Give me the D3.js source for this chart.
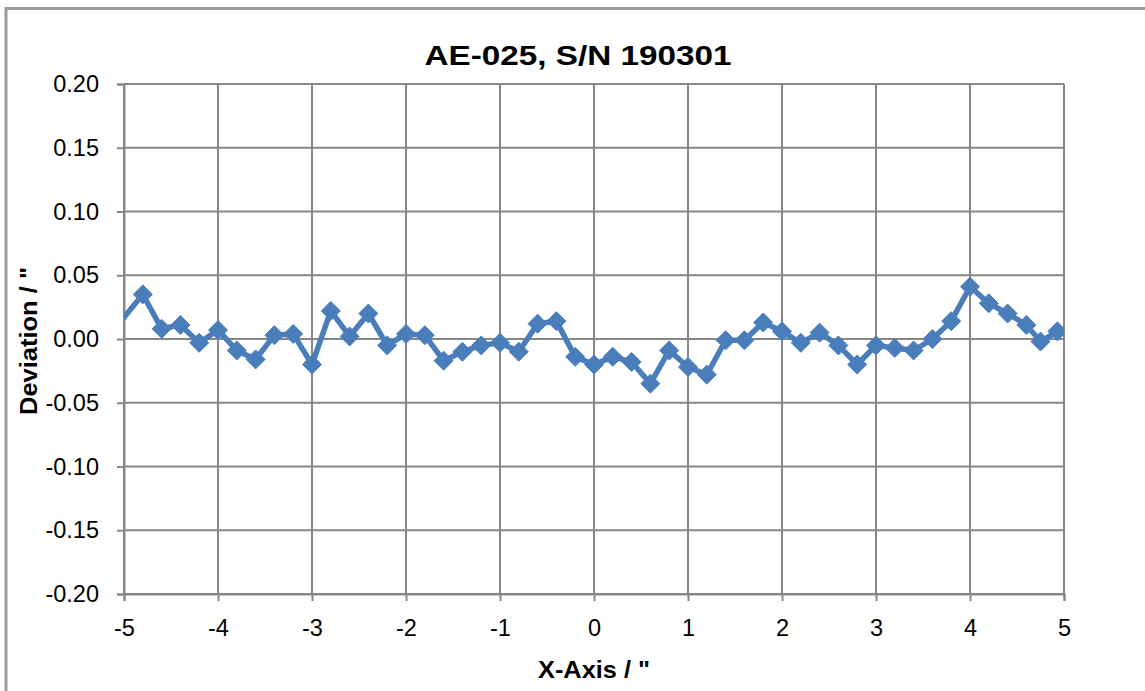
<!DOCTYPE html>
<html>
<head>
<meta charset="utf-8">
<script src="https://cdn.jsdelivr.net/npm/d3@7"></script>
<style>
  html, body { margin: 0; padding: 0; background: #fff; }
  svg { display: block; }
  text { font-family: "Liberation Sans", Arial, sans-serif; fill: #000; }
</style>
</head>
<body>
<svg id="chart" width="1145" height="691"></svg>
<script>
// ---- data ----
const title = "AE-025, S/N 190301";
const xTitle = "X-Axis / \"";
const yTitle = "Deviation / \"";
const xPositions = [-5.1, -4.8, -4.6, -4.4, -4.2, -4.0, -3.8, -3.6, -3.4, -3.2, -3.0,
  -2.8, -2.6, -2.4, -2.2, -2.0, -1.8, -1.6, -1.4, -1.2, -1.0,
  -0.8, -0.6, -0.4, -0.2, 0.0, 0.2, 0.4, 0.6, 0.8, 1.0,
  1.2, 1.4, 1.6, 1.8, 2.0, 2.2, 2.4, 2.6, 2.8, 3.0,
  3.2, 3.4, 3.6, 3.8, 4.0, 4.2, 4.4, 4.6, 4.75, 4.93];
const deviations = [0.008, 0.035, 0.008, 0.011, -0.003, 0.007, -0.009, -0.016, 0.003, 0.004, -0.020,
  0.022, 0.002, 0.020, -0.005, 0.004, 0.003, -0.017, -0.010, -0.005, -0.003,
  -0.010, 0.012, 0.014, -0.014, -0.020, -0.014, -0.018, -0.035, -0.009, -0.022,
  -0.028, -0.001, -0.001, 0.013, 0.006, -0.003, 0.005, -0.005, -0.020, -0.005,
  -0.007, -0.009, 0.000, 0.014, 0.041, 0.028, 0.020, 0.011, -0.002, 0.006];
const xTicks = [-5, -4, -3, -2, -1, 0, 1, 2, 3, 4, 5];
const yTicks = [-0.20, -0.15, -0.10, -0.05, 0.00, 0.05, 0.10, 0.15, 0.20];

// ---- layout ----
const svg = d3.select("#chart");
const L = 124, R = 1064, T = 84, B = 594;
const gridColor = "#878787";
const seriesColor = "#4A7EBB";

const x = d3.scaleLinear().domain([-5, 5]).range([L, R]);
const y = d3.scaleLinear().domain([-0.20, 0.20]).range([B, T]);

// outer chart border (top + left visible)
svg.append("rect")
  .attr("x", 6).attr("y", 8.5).attr("width", 1400).attr("height", 900)
  .attr("fill", "none").attr("stroke", "#9a9a9a").attr("stroke-width", 3);

// gridlines
const grid = svg.append("g");
grid.selectAll("line.h").data(yTicks).join("line")
  .attr("x1", L).attr("x2", R)
  .attr("y1", d => y(d)).attr("y2", d => y(d))
  .attr("stroke", gridColor).attr("stroke-width", 2);
grid.selectAll("line.v").data(xTicks).join("line")
  .attr("y1", T).attr("y2", B)
  .attr("x1", d => x(d)).attr("x2", d => x(d))
  .attr("stroke", gridColor).attr("stroke-width", 2);

// axes
const hyphen = s => s.replace("\u2212", "-");
const yAxis = svg.append("g").attr("transform", `translate(${L},0)`)
  .call(d3.axisLeft(y).tickValues(yTicks)
    .tickFormat(d => hyphen(d3.format(".2f")(d))).tickSize(7).tickPadding(18));
const xAxis = svg.append("g").attr("transform", `translate(0,${B})`)
  .call(d3.axisBottom(x).tickValues(xTicks)
    .tickFormat(d => hyphen(d3.format("d")(d))).tickSize(7).tickPadding(18));
[yAxis, xAxis].forEach(a => {
  a.select(".domain").attr("stroke", gridColor).attr("stroke-width", 2);
  a.selectAll(".tick line").attr("stroke", gridColor).attr("stroke-width", 2);
  a.selectAll(".tick text").attr("font-size", 23.5)
    .attr("font-family", "Liberation Sans, Arial, sans-serif").attr("fill", "#111");
});

// series
svg.append("clipPath").attr("id", "plotclip")
  .append("rect").attr("x", L).attr("y", T).attr("width", R - L).attr("height", B - T);
const pts = xPositions.map((v, i) => [v, deviations[i]]);
const series = svg.append("g").attr("clip-path", "url(#plotclip)");
series.append("path")
  .datum(pts)
  .attr("d", d3.line().x(d => x(d[0])).y(d => y(d[1])))
  .attr("fill", "none").attr("stroke", seriesColor).attr("stroke-width", 5.5)
  .attr("stroke-linejoin", "round");
series.selectAll("path.m").data(pts).join("path")
  .attr("class", "m")
  .attr("transform", d => `translate(${x(d[0])},${y(d[1])})`)
  .attr("d", "M0,-9.5L9.5,0L0,9.5L-9.5,0Z")
  .attr("fill", seriesColor).attr("stroke", seriesColor).attr("stroke-width", 1);

// titles
svg.append("text").attr("x", 578).attr("y", 65).attr("text-anchor", "middle")
  .attr("font-size", 28).attr("font-weight", "bold")
  .attr("textLength", 307).attr("lengthAdjust", "spacingAndGlyphs")
  .text(title);
svg.append("text").attr("x", 594).attr("y", 678).attr("text-anchor", "middle")
  .attr("font-size", 24).attr("font-weight", "bold")
  .attr("textLength", 112).attr("lengthAdjust", "spacingAndGlyphs")
  .text(xTitle);
svg.append("text").attr("transform", "translate(37,341) rotate(-90)").attr("text-anchor", "middle")
  .attr("font-size", 24).attr("font-weight", "bold")
  .attr("textLength", 148).attr("lengthAdjust", "spacingAndGlyphs")
  .text(yTitle);
</script>
</body>
</html>
